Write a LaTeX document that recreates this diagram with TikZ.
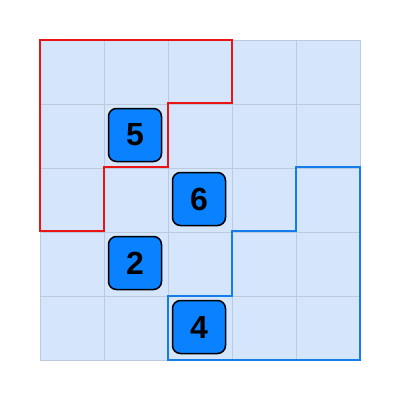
\documentclass[tikz,border=0pt]{standalone}
\usepackage{fontspec}
\setmainfont{Liberation Sans}
\definecolor{cellfill}{RGB}{213,230,252}
\definecolor{gridc}{RGB}{190,202,220}
\definecolor{regred}{RGB}{235,20,20}
\definecolor{regblue}{RGB}{20,125,235}
\definecolor{boxfill}{RGB}{10,130,255}
\begin{document}
\begin{tikzpicture}[x=1pt,y=-1pt,
  numbox/.style={draw=black,line width=1.5pt,fill=boxfill,rounded corners=8pt,minimum size=53pt,inner sep=0pt,font=\fontsize{32}{32}\selectfont\bfseries},
  gridline/.style={draw=gridc,line width=1pt},
  redreg/.style={draw=regred,line width=2pt},
  bluereg/.style={draw=regblue,line width=2pt}]
\useasboundingbox (0,0) rectangle (402,402);
\fill[white] (0,0) rectangle (402,402);
\fill[cellfill] (40,40) rectangle (360,360);
\foreach \k in {40,104,168,232,296,360} {
  \draw[gridline] (\k,40) -- (\k,360);
  \draw[gridline] (40,\k) -- (360,\k);
}
\draw[redreg] (40,40) -- (232,40) -- (232,103) -- (168,103) -- (168,167) -- (104,167) -- (104,231) -- (40,231) -- cycle;
\draw[bluereg] (296,167) -- (360,167) -- (360,360) -- (168,360) -- (168,296) -- (232,296) -- (232,231) -- (296,231) -- cycle;
\node[numbox] (n5) at (135,135) {5};
\node[numbox] (n6) at (199,199) {6};
\node[numbox] (n2) at (135,263) {2};
\node[numbox] (n4) at (199,327) {4};
\end{tikzpicture}
\end{document}
